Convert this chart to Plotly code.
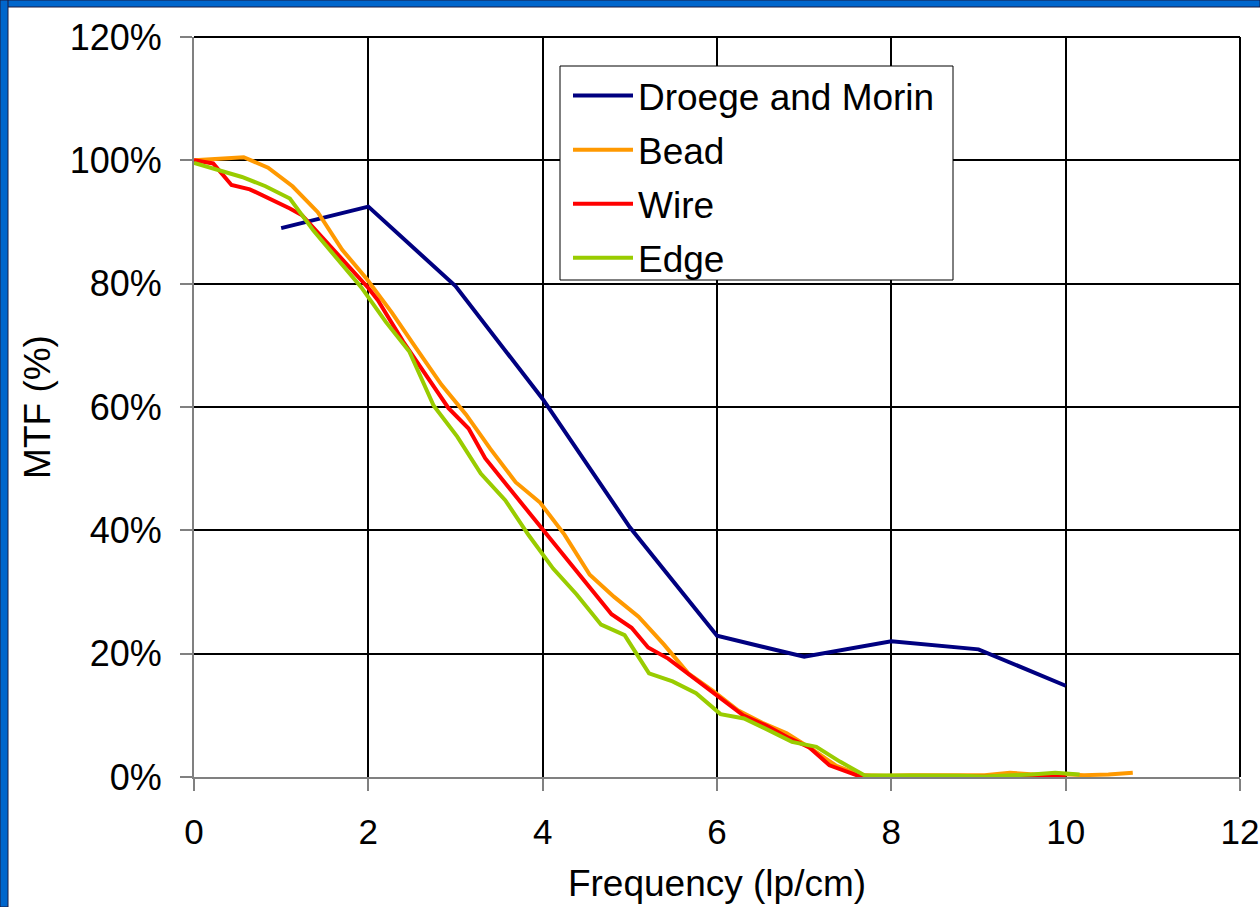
import plotly.graph_objects as go

# Modulation transfer function measurements (MTF in %, frequency in lp/cm)
droege_freq = [1, 2, 3, 4, 5, 6, 7, 8, 9, 10]
droege_mtf = [89.0, 92.5, 79.6, 61.3, 40.5, 22.9, 19.5, 22.0, 20.7, 14.8]

bead_freq = [0.0, 0.28, 0.57, 0.85, 1.13, 1.42, 1.70, 1.98, 2.27, 2.55,
             2.84, 3.12, 3.40, 3.69, 3.97, 4.25, 4.54, 4.82, 5.10, 5.39,
             5.67, 5.95, 6.24, 6.52, 6.80, 7.09, 7.37, 7.65, 7.94, 8.22,
             8.50, 8.79, 9.07, 9.36, 9.64, 9.92, 10.21, 10.49, 10.77]
bead_mtf = [100.0, 100.2, 100.5, 98.8, 95.8, 91.6, 85.5, 80.8, 75.3, 69.5,
            63.6, 58.8, 53.2, 47.8, 44.5, 39.3, 32.8, 29.2, 26.0, 21.5,
            16.8, 14.0, 10.8, 8.8, 7.1, 4.5, 1.8, 0.3, 0.2, 0.3,
            0.3, 0.2, 0.3, 0.7, 0.4, 0.5, 0.3, 0.4, 0.7]

wire_freq = [0.0, 0.22, 0.43, 0.64, 1.10, 1.24, 2.00, 2.11, 2.40, 2.92,
             3.15, 3.34, 3.59, 4.01, 4.79, 5.02, 5.21, 5.44, 6.03, 6.30,
             6.57, 6.83, 7.06, 7.29, 7.60, 8.0, 8.5, 9.0, 9.5, 9.8, 10.0]
wire_mtf = [100.0, 99.5, 96.0, 95.3, 92.2, 91.1, 79.3, 77.3, 70.6, 59.8,
            56.5, 51.7, 47.3, 40.0, 26.4, 24.2, 21.0, 19.2, 13.0, 10.0,
            8.3, 6.3, 4.8, 1.9, 0.3, 0.0, 0.0, 0.0, 0.0, 0.1, 0.2]

edge_freq = [0.0, 0.27, 0.55, 0.82, 1.10, 1.37, 1.65, 1.92, 2.20, 2.47,
             2.75, 3.02, 3.29, 3.57, 3.84, 4.12, 4.39, 4.67, 4.94, 5.22,
             5.49, 5.76, 6.04, 6.31, 6.59, 6.86, 7.14, 7.41, 7.69, 7.96,
             8.23, 8.51, 8.78, 9.06, 9.33, 9.61, 9.88, 10.16]
edge_mtf = [99.6, 98.5, 97.3, 95.8, 93.8, 88.6, 83.8, 79.4, 73.8, 69.0,
            60.2, 55.2, 49.2, 44.9, 39.2, 33.8, 29.6, 24.7, 23.0, 16.8,
            15.5, 13.6, 10.2, 9.5, 7.6, 5.7, 4.9, 2.5, 0.3, 0.3,
            0.3, 0.3, 0.2, 0.1, 0.2, 0.4, 0.7, 0.4]

x_ticks = [0, 2, 4, 6, 8, 10, 12]
y_ticks = [0, 20, 40, 60, 80, 100, 120]
y_tick_labels = ["0%", "20%", "40%", "60%", "80%", "100%", "120%"]

FONT = "Arial, 'Liberation Sans', sans-serif"
W, H = 1260, 907
ML, MR, MT, MB = 194, 20, 37, 130
PW, PH = W - ML - MR, H - MT - MB


def px_x(px):
    return (px - ML) / PW


def px_y(py):
    return (H - MB - py) / PH


series = [
    ("Droege and Morin", droege_freq, droege_mtf, "#000080"),
    ("Bead", bead_freq, bead_mtf, "#FF9900"),
    ("Wire", wire_freq, wire_mtf, "#FF0000"),
    ("Edge", edge_freq, edge_mtf, "#99CC00"),
]

fig = go.Figure()
for name, xs, ys, color in series:
    fig.add_trace(go.Scatter(x=xs, y=ys, name=name, legendgroup=name, mode="lines",
                             line=dict(color=color, width=4)))

fig.update_layout(
    width=W, height=H,
    margin=dict(l=ML, r=MR, t=MT, b=MB, pad=0),
    paper_bgcolor="white", plot_bgcolor="white",
    font=dict(family=FONT, size=36, color="black"),
    showlegend=True,
    legend=dict(x=px_x(568), y=px_y(65), xanchor="left", yanchor="top",
                bgcolor="rgba(0,0,0,0)", borderwidth=0,
                font=dict(size=37), tracegroupgap=3, itemwidth=60),
    xaxis=dict(range=[0, 12], tickvals=x_ticks, ticks="outside", ticklen=12,
               tickwidth=2, tickcolor="#808080", ticklabelstandoff=11,
               showline=True, linecolor="#808080",
               linewidth=2, showgrid=True, gridcolor="black", gridwidth=2,
               zeroline=False, tickfont=dict(size=35), automargin=False,
               title=dict(text="Frequency (lp/cm)", font=dict(size=37), standoff=20)),
    yaxis=dict(range=[0, 120], tickvals=y_ticks, ticktext=y_tick_labels,
               ticks="outside", ticklen=12, tickwidth=2, tickcolor="#808080",
               ticklabelstandoff=11, showline=True,
               linecolor="#808080", linewidth=2, showgrid=True, gridcolor="black",
               gridwidth=2, zeroline=False, tickfont=dict(size=36), automargin=False,
               title=dict(text="MTF (%)", font=dict(size=37), standoff=8)),
)

# Plot-area frame on the top and right edges
fig.add_shape(type="line", xref="paper", yref="paper", x0=0, x1=1, y0=1, y1=1,
              line=dict(color="black", width=2), layer="above")
fig.add_shape(type="line", xref="paper", yref="paper", x0=1, x1=1, y0=0, y1=1,
              line=dict(color="black", width=2), layer="above")

# Legend box
fig.add_shape(type="rect", xref="paper", yref="paper",
              x0=px_x(560), x1=px_x(953), y0=px_y(280), y1=px_y(66),
              fillcolor="white", line=dict(color="black", width=1), layer="above")

# Blue slide border along the top and left edges of the page
fig.add_shape(type="rect", xref="paper", yref="paper",
              x0=px_x(0), x1=px_x(W), y0=px_y(7), y1=px_y(0),
              fillcolor="#0066CC", line=dict(color="#1a1a40", width=1))
fig.add_shape(type="rect", xref="paper", yref="paper",
              x0=px_x(0), x1=px_x(8), y0=px_y(H), y1=px_y(0),
              fillcolor="#0066CC", line=dict(color="#1a1a40", width=1))

fig.write_html("out.html")
